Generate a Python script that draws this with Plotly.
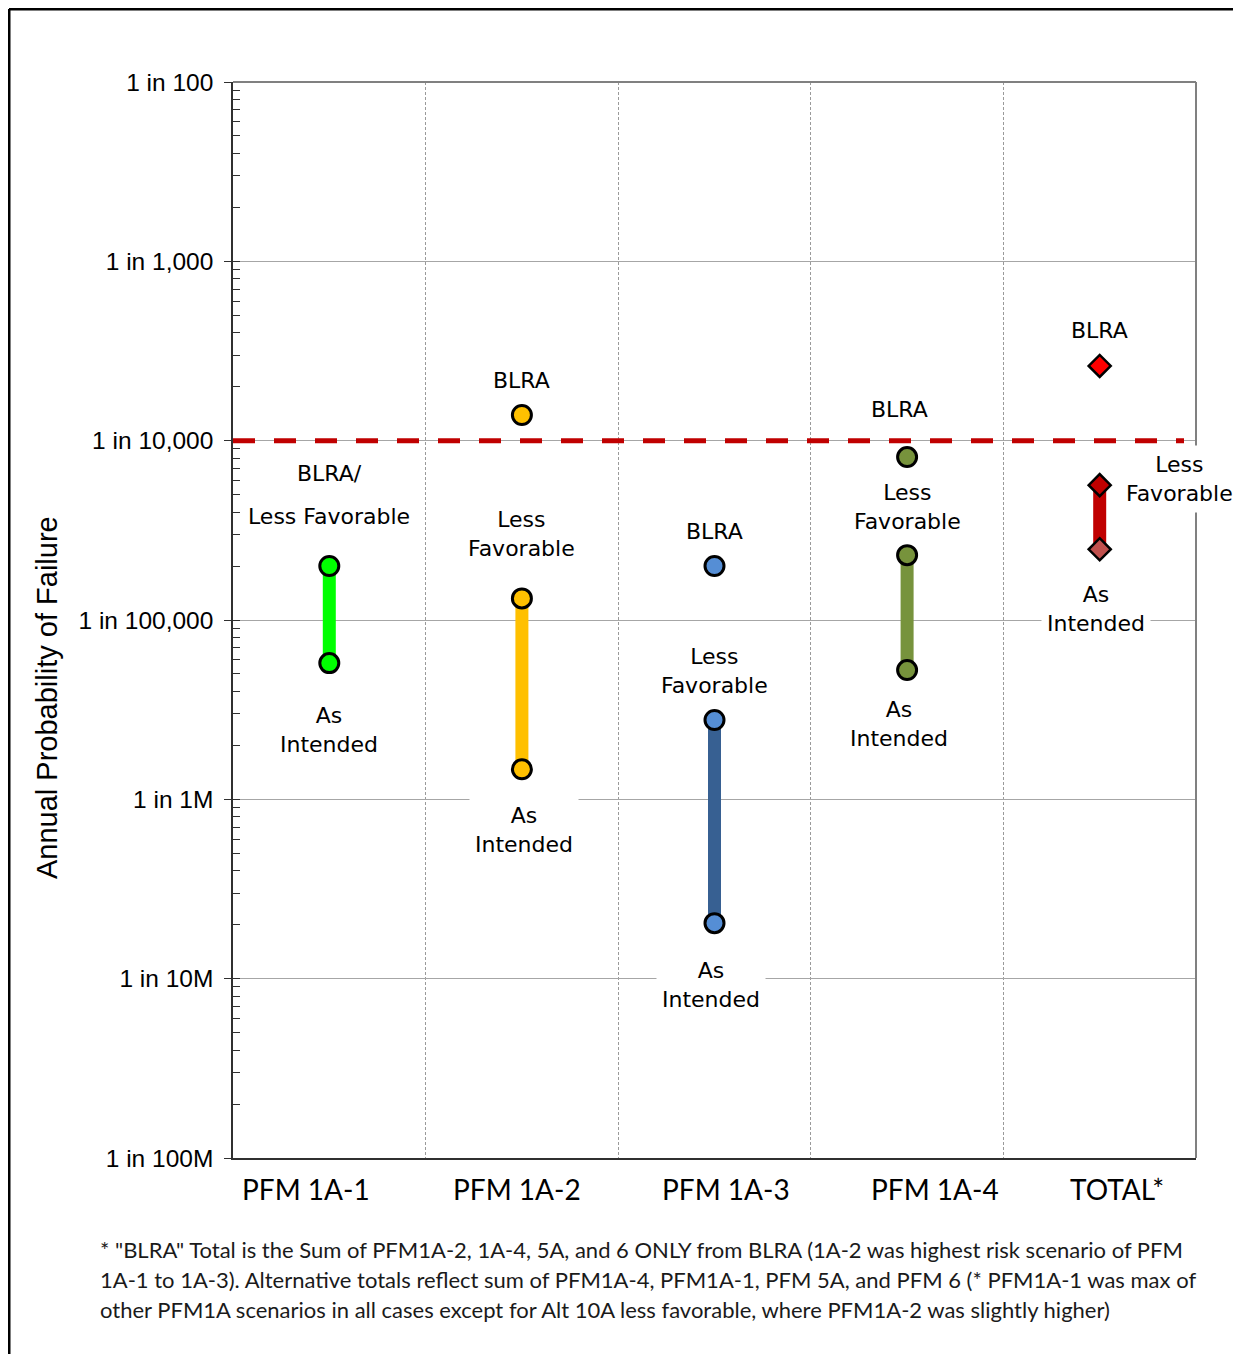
import math
import plotly.graph_objects as go

# ---------------- data ----------------
categories = ["PFM 1A-1", "PFM 1A-2", "PFM 1A-3", "PFM 1A-4", "TOTAL*"]
blra = [2.0e-5, 1.39e-4, 2.0e-5, 8.1e-5, 2.61e-4]
less_favorable = [2.0e-5, 1.32e-5, 2.77e-6, 2.30e-5, 5.65e-5]
as_intended = [5.75e-6, 1.47e-6, 2.04e-7, 5.26e-6, 2.48e-5]
threshold = 1e-4

ytick_vals = [1e-2, 1e-3, 1e-4, 1e-5, 1e-6, 1e-7, 1e-8]
ytick_text = ["1 in 100", "1 in 1,000", "1 in 10,000", "1 in 100,000",
              "1 in 1M", "1 in 10M", "1 in 100M"]

footnote = [
    '* "BLRA" Total is the Sum of PFM1A-2, 1A-4, 5A, and 6 ONLY from BLRA (1A-2 was highest risk scenario of PFM',
    '1A-1 to 1A-3). Alternative totals reflect sum of PFM1A-4, PFM1A-1, PFM 5A, and PFM 6 (* PFM1A-1 was max of',
    'other PFM1A scenarios in all cases except for Alt 10A less favorable, where PFM1A-2 was slightly higher)',
]

# ---------------- layout geometry (page pixels; page has an 8px body margin) ----------------
OFF = 8
W, H = 1241 - OFF, 1354 - OFF
PL, PR, PT, PB = 233, 1196, 82, 1158  # plot area in page pixels
L, T = PL - OFF, PT - OFF
R, B = W - (PR - OFF), H - (PB - OFF)
PW, PH = PR - PL, PB - PT

def px2paper_x(px):
    return (px - PL) / PW

def px2paper_y(py):
    return (PB - py) / PH

line_colors = ["#00FF00", "#FFC000", "#376092", "#77933C", "#C00000"]
blra_fill = ["#00FF00", "#FFC000", "#558ED5", "#77933C", "#FF0000"]
lf_fill = ["#00FF00", "#FFC000", "#558ED5", "#77933C", "#C00000"]
ai_fill = ["#00FF00", "#FFC000", "#558ED5", "#77933C", "#C0504D"]
symbols = ["circle", "circle", "circle", "circle", "diamond"]

fig = go.Figure()

for i, cat in enumerate(categories):
    sym = symbols[i]
    size = 19 if sym == "circle" else 17
    lw = 3 if sym == "circle" else 2.5
    fig.add_trace(go.Scatter(
        x=[i, i], y=[less_favorable[i], as_intended[i]], mode="lines",
        line=dict(color=line_colors[i], width=13), showlegend=False, hoverinfo="skip"))
    pts_y = [as_intended[i], less_favorable[i]]
    pts_c = [ai_fill[i], lf_fill[i]]
    if blra[i] != less_favorable[i]:
        pts_y.append(blra[i])
        pts_c.append(blra_fill[i])
    fig.add_trace(go.Scatter(
        x=[i] * len(pts_y), y=pts_y, mode="markers",
        marker=dict(symbol=sym, size=size, color=pts_c, line=dict(color="black", width=lw)),
        showlegend=False, name=cat))

# ---------------- annotations (labels next to points) ----------------
TXT = dict(family="DejaVu Sans", size=22, color="black")

def lab(i, val, text, dy, dx=0, bg=None, pad=1):
    fig.add_annotation(
        x=i, y=math.log10(val), text=text, showarrow=False, xshift=dx, yshift=dy,
        font=TXT, bgcolor=bg if bg else "rgba(0,0,0,0)", borderpad=pad,
        xanchor="center", yanchor="middle", align="center")

# PFM 1A-1
lab(0, less_favorable[0], "BLRA/", 93)
lab(0, less_favorable[0], "Less Favorable", 50)
lab(0, as_intended[0], "As<br>Intended", -67)
# PFM 1A-2
lab(1, blra[1], "BLRA", 35)
lab(1, less_favorable[1], "Less<br>Favorable", 64)
lab(1, as_intended[1], "As<br>Intended", -61, dx=2, bg="white", pad=5)
# PFM 1A-3
lab(2, blra[2], "BLRA", 35)
lab(2, less_favorable[2], "Less<br>Favorable", 49)
lab(2, as_intended[2], "As<br>Intended", -62, dx=-4, bg="white", pad=5)
# PFM 1A-4
lab(3, blra[3], "BLRA", 48, dx=-8)
lab(3, less_favorable[3], "Less<br>Favorable", 48)
lab(3, as_intended[3], "As<br>Intended", -54, dx=-8)
# TOTAL
lab(4, blra[4], "BLRA", 35)
lab(4, less_favorable[4], "Less<br>Favorable", 6, dx=80, bg="white", pad=6)
lab(4, as_intended[4], "As<br>Intended", -60, dx=-4, bg="white", pad=5)

# category labels
cat_px = [306, 517, 726, 935, 1117]
for c, px in zip(categories, cat_px):
    fig.add_annotation(x=px2paper_x(px), y=px2paper_y(1189), xref="paper", yref="paper",
                       text=c, showarrow=False, xanchor="center", yanchor="middle",
                       font=dict(family="Lato", size=28, color="black"))

# y-axis title
fig.add_annotation(x=px2paper_x(47), y=px2paper_y(698), xref="paper", yref="paper",
                   text="Annual Probability of Failure", textangle=-90, showarrow=False,
                   xanchor="center", yanchor="middle",
                   font=dict(family="Liberation Sans", size=29, color="black"))

# footnote
for k, line in enumerate(footnote):
    fig.add_annotation(x=px2paper_x(98), y=px2paper_y(1249 + 30 * k), xref="paper", yref="paper",
                       text=line, showarrow=False, xanchor="left", yanchor="middle",
                       font=dict(family="Lato", size=22, color="#1a1a1a"))

# ---------------- shapes ----------------
fig.add_shape(type="line", xref="paper", yref="y", x0=0, x1=px2paper_x(1184),
              y0=threshold, y1=threshold, line=dict(color="#C00000", width=5, dash="22px,19px"))
fig.add_shape(type="line", xref="paper", yref="paper", x0=0, x1=1, y0=1, y1=1,
              line=dict(color="#808080", width=2))
fig.add_shape(type="line", xref="paper", yref="paper", x0=1, x1=1, y0=0, y1=1,
              line=dict(color="#808080", width=2))
# outer frame (top and left)
fig.add_shape(type="line", xref="paper", yref="paper", x0=px2paper_x(OFF + 1), x1=px2paper_x(1241 + 5),
              y0=px2paper_y(OFF + 1), y1=px2paper_y(OFF + 1), line=dict(color="black", width=3))
fig.add_shape(type="line", xref="paper", yref="paper", x0=px2paper_x(OFF + 1), x1=px2paper_x(OFF + 1),
              y0=px2paper_y(OFF + 1), y1=px2paper_y(1354 + 5), line=dict(color="black", width=3))

fig.update_layout(
    width=W, height=H,
    margin=dict(l=L, r=R, t=T, b=B, pad=0),
    paper_bgcolor="white", plot_bgcolor="white",
    showlegend=False,
    xaxis=dict(
        range=[-0.5, len(categories) - 0.5],
        tickvals=[i + 0.5 for i in range(len(categories) - 1)],
        showticklabels=False, ticks="",
        showgrid=True, gridcolor="#9a9a9a", gridwidth=1, griddash="3px,2px",
        zeroline=False, showline=True, linecolor="#303030", linewidth=2,
    ),
    yaxis=dict(
        type="log", range=[-8, -2],
        tickvals=ytick_vals, ticktext=ytick_text,
        ticks="outside", ticklen=7, tickcolor="#303030", tickwidth=1,
        ticklabelstandoff=6,
        tickfont=dict(family="Liberation Sans", size=24.5, color="black"),
        showgrid=True, gridcolor="#a6a6a6", gridwidth=1,
        zeroline=False, showline=True, linecolor="#303030", linewidth=1.5,
        minor=dict(ticks="inside", ticklen=7, tickcolor="#303030", tickwidth=1,
                   dtick="D1", showgrid=False),
    ),
)

fig.write_html("out.html")
